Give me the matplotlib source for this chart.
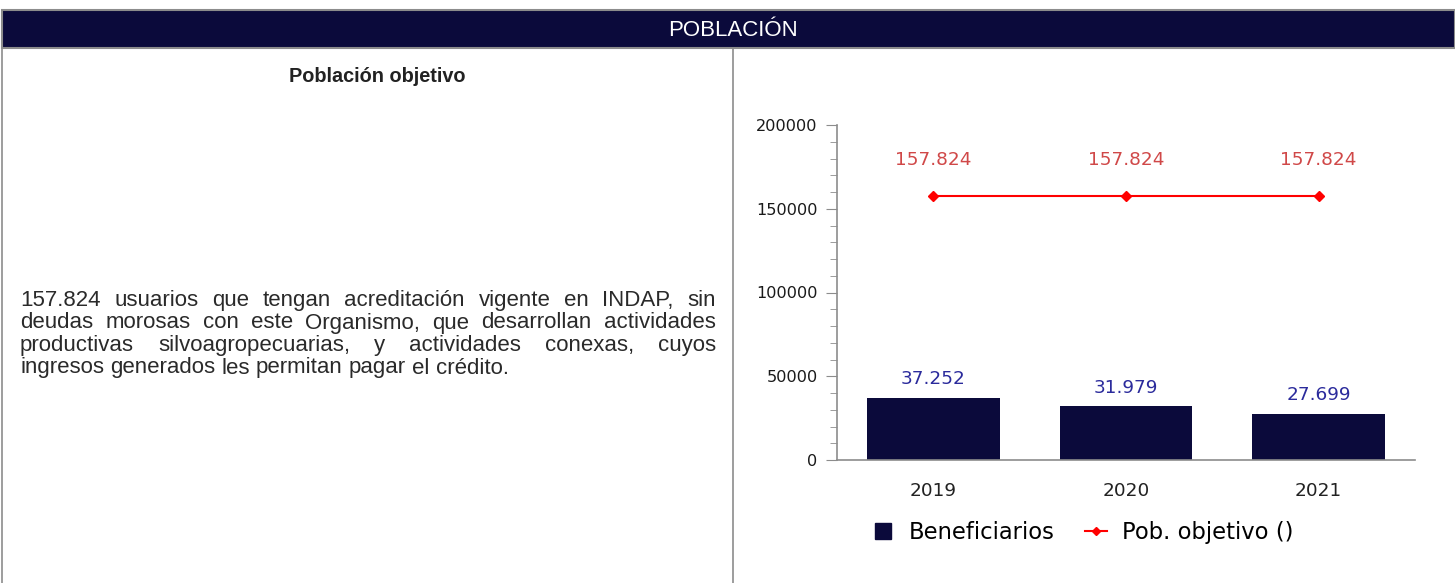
import matplotlib.pyplot as plt
import numpy as np
from matplotlib.lines import Line2D
from matplotlib.patches import Rectangle

years = ["2019", "2020", "2021"]
beneficiarios = [37252, 31979, 27699]
pob_objetivo = [157824, 157824, 157824]

header = "POBLACIÓN"
subtitulo = "Población objetivo"
parrafo = [
    "157.824 usuarios que tengan acreditación vigente en INDAP, sin",
    "deudas morosas con este Organismo, que desarrollan actividades",
    "productivas silvoagropecuarias, y actividades conexas, cuyos",
    "ingresos generados les permitan pagar el crédito.",
]

navy = "#0b0a3b"
grey = "#8c8c8c"
W, H = 1455, 583
fs_par = 16


def fmt(v):
    return f"{v:,}".replace(",", ".")


def px(x, y):
    return x / W, 1 - y / H


fig = plt.figure(figsize=(W / 100, H / 100), dpi=100)

# header band and panel borders
fig.patches.append(Rectangle(px(2, 48), (W - 2) / W, 38 / H, transform=fig.transFigure,
                             facecolor=navy, edgecolor=grey, lw=1.5))
fig.text(*px(733, 30), header, color="white", ha="center", va="center",
         family="Liberation Sans", fontsize=16)
for x in (2, 733):
    fig.add_artist(Line2D([x / W, x / W], [0, 1 - 48 / H], transform=fig.transFigure,
                          color=grey, lw=1.2))

fig.text(*px(377, 77), subtitulo, ha="center", va="center", family="Liberation Sans",
         fontsize=14.3, fontweight="bold", color="#222222")

# justified paragraph, word by word
renderer = fig.canvas.get_renderer()
left, right = 20, 716
probe = fig.text(0, 0, "a a", family="Liberation Sans", fontsize=fs_par)
probe2 = fig.text(0, 0, "aa", family="Liberation Sans", fontsize=fs_par)
space = probe.get_window_extent(renderer).width - probe2.get_window_extent(renderer).width
probe.remove()
probe2.remove()
for i, line in enumerate(parrafo):
    y = 306 + i * 22.5
    words = line.split()
    arts = [fig.text(0, 1 - y / H, w, ha="left", va="baseline", family="Liberation Sans",
                     fontsize=fs_par, color="#2a2a2a") for w in words]
    widths = [a.get_window_extent(renderer).width for a in arts]
    if i < len(parrafo) - 1:
        gap = (right - left - sum(widths)) / (len(words) - 1)
    else:
        gap = space
    x = left
    for a, w in zip(arts, widths):
        a.set_x(x / W)
        x += w + gap

# chart
ax = fig.add_axes([837 / W, (H - 460) / H, (1415 - 837) / W, 335 / H])
xs = np.arange(len(years))
ax.bar(xs, beneficiarios, width=0.69, color=navy, zorder=2)
ax.plot(xs, pob_objetivo, color="#ff0000", lw=1.5, marker="D", markersize=5, zorder=3)

for x, v in zip(xs, beneficiarios):
    ax.annotate(fmt(v), (x, v), xytext=(0, 13.5), textcoords="offset points",
                ha="center", va="center", color="#2b2b9c", fontsize=13.3)
for x, v in zip(xs, pob_objetivo):
    ax.annotate(fmt(v), (x, v), xytext=(0, 26), textcoords="offset points",
                ha="center", va="center", color="#d04848", fontsize=13.3)

ax.set_xlim(-0.5, 2.5)
ax.set_ylim(0, 200000)
ax.set_yticks(np.arange(0, 200001, 50000))
ax.set_yticks(np.arange(0, 200001, 10000), minor=True)
ax.set_xticks(xs)
ax.set_xticklabels(years)
for s in ("top", "right"):
    ax.spines[s].set_visible(False)
for s in ("left", "bottom"):
    ax.spines[s].set_color(grey)
    ax.spines[s].set_linewidth(1.2)
ax.tick_params(axis="y", which="major", length=8, color=grey, pad=6, labelsize=11.6,
               labelcolor="#1a1a1a")
ax.tick_params(axis="y", which="minor", length=5, color=grey)
ax.tick_params(axis="x", length=0, pad=16, labelsize=13.3, labelcolor="#222222")

handles = [
    Line2D([], [], color=navy, marker="s", ls="none", markersize=11),
    Line2D([], [], color="#ff0000", marker="D", markersize=4, lw=1.5),
]
ax.legend(handles, ["Beneficiarios", "Pob. objetivo ()"], loc="center",
          bbox_to_anchor=(0.425, -0.215), ncol=2, frameon=False, fontsize=16.3,
          handlelength=1.0, columnspacing=1.3, handletextpad=0.65)

fig.savefig("out.png", dpi=100)
